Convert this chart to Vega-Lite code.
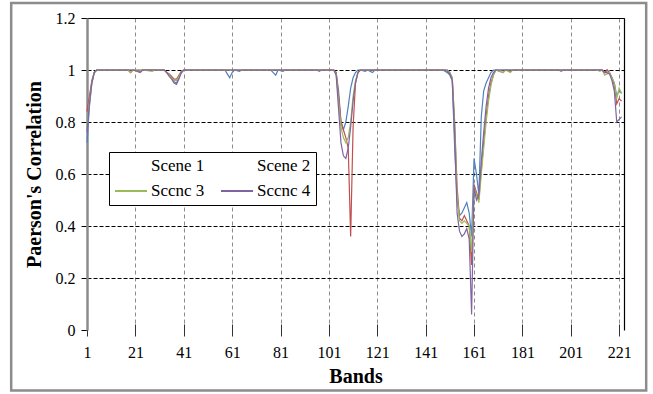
{
  "$schema": "https://vega.github.io/schema/vega-lite/v6.json",
  "width": 537,
  "height": 312,
  "autosize": {"type": "none"},
  "padding": {"left": 87, "top": 18, "right": 29, "bottom": 64},
  "background": "#ffffff",
  "config": {
    "view": {"stroke": null},
    "font": "Liberation Serif",
    "axis": {"labelFont": "Liberation Serif", "titleFont": "Liberation Serif"},
    "legend": {"labelFont": "Liberation Serif"}
  },
  "layer": [
    {
      "data": {"values": [
        {"b": 1, "Scene 1": 0.72, "Scene 2": 0.84, "Sccnc 3": 0.78, "Sccnc 4": 0.76},
        {"b": 2, "Scene 1": 0.86, "Scene 2": 0.90, "Sccnc 3": 0.88, "Sccnc 4": 0.87},
        {"b": 3, "Scene 1": 0.95, "Scene 2": 0.96, "Sccnc 3": 0.95, "Sccnc 4": 0.95},
        {"b": 4, "Scene 1": 0.99, "Scene 2": 0.99, "Sccnc 3": 0.99, "Sccnc 4": 0.99},
        {"b": 5, "Scene 1": 1, "Scene 2": 1, "Sccnc 3": 1, "Sccnc 4": 1},
        {"b": 18, "Scene 1": 1, "Scene 2": 1, "Sccnc 3": 1, "Sccnc 4": 1},
        {"b": 19, "Scene 1": 1, "Scene 2": 0.99, "Sccnc 3": 0.99, "Sccnc 4": 1},
        {"b": 20, "Scene 1": 1, "Scene 2": 1, "Sccnc 3": 1, "Sccnc 4": 1},
        {"b": 23, "Scene 1": 1, "Scene 2": 0.995, "Sccnc 3": 1, "Sccnc 4": 0.99},
        {"b": 24, "Scene 1": 1, "Scene 2": 1, "Sccnc 3": 1, "Sccnc 4": 1},
        {"b": 28, "Scene 1": 1, "Scene 2": 1, "Sccnc 3": 0.995, "Sccnc 4": 1},
        {"b": 29, "Scene 1": 1, "Scene 2": 1, "Sccnc 3": 1, "Sccnc 4": 1},
        {"b": 33, "Scene 1": 1, "Scene 2": 1, "Sccnc 3": 1, "Sccnc 4": 1},
        {"b": 34, "Scene 1": 0.99, "Scene 2": 0.99, "Sccnc 3": 0.99, "Sccnc 4": 0.99},
        {"b": 35, "Scene 1": 0.98, "Scene 2": 0.985, "Sccnc 3": 0.98, "Sccnc 4": 0.975},
        {"b": 36, "Scene 1": 0.97, "Scene 2": 0.975, "Sccnc 3": 0.97, "Sccnc 4": 0.965},
        {"b": 37, "Scene 1": 0.955, "Scene 2": 0.965, "Sccnc 3": 0.96, "Sccnc 4": 0.95},
        {"b": 38, "Scene 1": 0.95, "Scene 2": 0.965, "Sccnc 3": 0.96, "Sccnc 4": 0.945},
        {"b": 39, "Scene 1": 0.97, "Scene 2": 0.98, "Sccnc 3": 0.975, "Sccnc 4": 0.965},
        {"b": 40, "Scene 1": 0.99, "Scene 2": 0.995, "Sccnc 3": 0.99, "Sccnc 4": 0.99},
        {"b": 41, "Scene 1": 1, "Scene 2": 1, "Sccnc 3": 1, "Sccnc 4": 1},
        {"b": 58, "Scene 1": 1, "Scene 2": 1, "Sccnc 3": 1, "Sccnc 4": 1},
        {"b": 59, "Scene 1": 0.985, "Scene 2": 1, "Sccnc 3": 1, "Sccnc 4": 1},
        {"b": 60, "Scene 1": 0.97, "Scene 2": 1, "Sccnc 3": 1, "Sccnc 4": 1},
        {"b": 61, "Scene 1": 0.99, "Scene 2": 1, "Sccnc 3": 1, "Sccnc 4": 1},
        {"b": 62, "Scene 1": 1, "Scene 2": 1, "Sccnc 3": 1, "Sccnc 4": 1},
        {"b": 64, "Scene 1": 0.995, "Scene 2": 1, "Sccnc 3": 1, "Sccnc 4": 1},
        {"b": 65, "Scene 1": 1, "Scene 2": 1, "Sccnc 3": 1, "Sccnc 4": 1},
        {"b": 77, "Scene 1": 1, "Scene 2": 1, "Sccnc 3": 1, "Sccnc 4": 1},
        {"b": 78, "Scene 1": 0.99, "Scene 2": 1, "Sccnc 3": 1, "Sccnc 4": 1},
        {"b": 79, "Scene 1": 0.98, "Scene 2": 1, "Sccnc 3": 1, "Sccnc 4": 1},
        {"b": 80, "Scene 1": 1, "Scene 2": 1, "Sccnc 3": 1, "Sccnc 4": 1},
        {"b": 82, "Scene 1": 0.995, "Scene 2": 1, "Sccnc 3": 1, "Sccnc 4": 1},
        {"b": 83, "Scene 1": 1, "Scene 2": 1, "Sccnc 3": 1, "Sccnc 4": 1},
        {"b": 96, "Scene 1": 1, "Scene 2": 1, "Sccnc 3": 1, "Sccnc 4": 1},
        {"b": 97, "Scene 1": 0.995, "Scene 2": 1, "Sccnc 3": 1, "Sccnc 4": 1},
        {"b": 98, "Scene 1": 1, "Scene 2": 1, "Sccnc 3": 1, "Sccnc 4": 1},
        {"b": 103, "Scene 1": 1, "Scene 2": 1, "Sccnc 3": 1, "Sccnc 4": 1},
        {"b": 104, "Scene 1": 0.99, "Scene 2": 0.99, "Sccnc 3": 0.985, "Sccnc 4": 0.98},
        {"b": 105, "Scene 1": 0.92, "Scene 2": 0.90, "Sccnc 3": 0.88, "Sccnc 4": 0.85},
        {"b": 106, "Scene 1": 0.80, "Scene 2": 0.80, "Sccnc 3": 0.78, "Sccnc 4": 0.72},
        {"b": 107, "Scene 1": 0.77, "Scene 2": 0.77, "Sccnc 3": 0.74, "Sccnc 4": 0.67},
        {"b": 108, "Scene 1": 0.80, "Scene 2": 0.74, "Sccnc 3": 0.72, "Sccnc 4": 0.66},
        {"b": 109, "Scene 1": 0.86, "Scene 2": 0.70, "Sccnc 3": 0.74, "Sccnc 4": 0.70},
        {"b": 110, "Scene 1": 0.93, "Scene 2": 0.36, "Sccnc 3": 0.80, "Sccnc 4": 0.78},
        {"b": 111, "Scene 1": 0.97, "Scene 2": 0.78, "Sccnc 3": 0.90, "Sccnc 4": 0.88},
        {"b": 112, "Scene 1": 0.99, "Scene 2": 0.95, "Sccnc 3": 0.96, "Sccnc 4": 0.95},
        {"b": 113, "Scene 1": 1, "Scene 2": 0.99, "Sccnc 3": 0.99, "Sccnc 4": 0.99},
        {"b": 114, "Scene 1": 1, "Scene 2": 1, "Sccnc 3": 1, "Sccnc 4": 1},
        {"b": 116, "Scene 1": 0.995, "Scene 2": 1, "Sccnc 3": 1, "Sccnc 4": 1},
        {"b": 117, "Scene 1": 1, "Scene 2": 1, "Sccnc 3": 1, "Sccnc 4": 1},
        {"b": 119, "Scene 1": 0.99, "Scene 2": 1, "Sccnc 3": 1, "Sccnc 4": 1},
        {"b": 120, "Scene 1": 1, "Scene 2": 1, "Sccnc 3": 1, "Sccnc 4": 1},
        {"b": 148, "Scene 1": 1, "Scene 2": 1, "Sccnc 3": 1, "Sccnc 4": 1},
        {"b": 149, "Scene 1": 0.995, "Scene 2": 1, "Sccnc 3": 1, "Sccnc 4": 1},
        {"b": 150, "Scene 1": 0.99, "Scene 2": 1, "Sccnc 3": 1, "Sccnc 4": 0.995},
        {"b": 151, "Scene 1": 0.98, "Scene 2": 0.99, "Sccnc 3": 0.99, "Sccnc 4": 0.985},
        {"b": 152, "Scene 1": 0.96, "Scene 2": 0.97, "Sccnc 3": 0.97, "Sccnc 4": 0.96},
        {"b": 153, "Scene 1": 0.70, "Scene 2": 0.80, "Sccnc 3": 0.78, "Sccnc 4": 0.75},
        {"b": 154, "Scene 1": 0.50, "Scene 2": 0.55, "Sccnc 3": 0.52, "Sccnc 4": 0.45},
        {"b": 155, "Scene 1": 0.44, "Scene 2": 0.43, "Sccnc 3": 0.42, "Sccnc 4": 0.38},
        {"b": 156, "Scene 1": 0.45, "Scene 2": 0.42, "Sccnc 3": 0.41, "Sccnc 4": 0.36},
        {"b": 157, "Scene 1": 0.47, "Scene 2": 0.44, "Sccnc 3": 0.42, "Sccnc 4": 0.37},
        {"b": 158, "Scene 1": 0.49, "Scene 2": 0.42, "Sccnc 3": 0.41, "Sccnc 4": 0.39},
        {"b": 159, "Scene 1": 0.45, "Scene 2": 0.40, "Sccnc 3": 0.40, "Sccnc 4": 0.35},
        {"b": 160, "Scene 1": 0.36, "Scene 2": 0.25, "Sccnc 3": 0.30, "Sccnc 4": 0.06},
        {"b": 161, "Scene 1": 0.66, "Scene 2": 0.56, "Sccnc 3": 0.55, "Sccnc 4": 0.55},
        {"b": 162, "Scene 1": 0.60, "Scene 2": 0.53, "Sccnc 3": 0.52, "Sccnc 4": 0.50},
        {"b": 163, "Scene 1": 0.52, "Scene 2": 0.50, "Sccnc 3": 0.49, "Sccnc 4": 0.52},
        {"b": 164, "Scene 1": 0.82, "Scene 2": 0.62, "Sccnc 3": 0.60, "Sccnc 4": 0.65},
        {"b": 165, "Scene 1": 0.92, "Scene 2": 0.72, "Sccnc 3": 0.70, "Sccnc 4": 0.76},
        {"b": 166, "Scene 1": 0.95, "Scene 2": 0.82, "Sccnc 3": 0.80, "Sccnc 4": 0.86},
        {"b": 167, "Scene 1": 0.97, "Scene 2": 0.90, "Sccnc 3": 0.88, "Sccnc 4": 0.93},
        {"b": 168, "Scene 1": 0.99, "Scene 2": 0.95, "Sccnc 3": 0.94, "Sccnc 4": 0.97},
        {"b": 169, "Scene 1": 1, "Scene 2": 0.98, "Sccnc 3": 0.98, "Sccnc 4": 0.99},
        {"b": 170, "Scene 1": 1, "Scene 2": 1, "Sccnc 3": 1, "Sccnc 4": 1},
        {"b": 173, "Scene 1": 1, "Scene 2": 0.99, "Sccnc 3": 0.99, "Sccnc 4": 1},
        {"b": 174, "Scene 1": 1, "Scene 2": 1, "Sccnc 3": 1, "Sccnc 4": 1},
        {"b": 176, "Scene 1": 1, "Scene 2": 0.995, "Sccnc 3": 0.99, "Sccnc 4": 1},
        {"b": 177, "Scene 1": 1, "Scene 2": 1, "Sccnc 3": 1, "Sccnc 4": 1},
        {"b": 196, "Scene 1": 1, "Scene 2": 1, "Sccnc 3": 1, "Sccnc 4": 1},
        {"b": 197, "Scene 1": 0.995, "Scene 2": 1, "Sccnc 3": 1, "Sccnc 4": 1},
        {"b": 198, "Scene 1": 1, "Scene 2": 1, "Sccnc 3": 1, "Sccnc 4": 1},
        {"b": 212, "Scene 1": 1, "Scene 2": 1, "Sccnc 3": 1, "Sccnc 4": 1},
        {"b": 213, "Scene 1": 1, "Scene 2": 1, "Sccnc 3": 0.995, "Sccnc 4": 1},
        {"b": 214, "Scene 1": 1, "Scene 2": 1, "Sccnc 3": 1, "Sccnc 4": 1},
        {"b": 215, "Scene 1": 0.99, "Scene 2": 0.99, "Sccnc 3": 0.98, "Sccnc 4": 0.99},
        {"b": 216, "Scene 1": 1, "Scene 2": 1, "Sccnc 3": 0.985, "Sccnc 4": 0.99},
        {"b": 217, "Scene 1": 0.99, "Scene 2": 0.99, "Sccnc 3": 0.99, "Sccnc 4": 0.985},
        {"b": 218, "Scene 1": 0.97, "Scene 2": 0.97, "Sccnc 3": 0.97, "Sccnc 4": 0.96},
        {"b": 219, "Scene 1": 0.95, "Scene 2": 0.94, "Sccnc 3": 0.95, "Sccnc 4": 0.92},
        {"b": 220, "Scene 1": 0.90, "Scene 2": 0.87, "Sccnc 3": 0.89, "Sccnc 4": 0.80},
        {"b": 221, "Scene 1": 0.92, "Scene 2": 0.89, "Sccnc 3": 0.93, "Sccnc 4": 0.81},
        {"b": 222, "Scene 1": 0.91, "Scene 2": 0.88, "Sccnc 3": 0.91, "Sccnc 4": 0.82}
      ]},
      "transform": [
        {"fold": ["Scene 1", "Scene 2", "Sccnc 3", "Sccnc 4"], "as": ["s", "v"]}
      ],
      "mark": {"type": "line", "strokeWidth": 1.2, "clip": false},
      "encoding": {
        "x": {
          "field": "b", "type": "quantitative",
          "scale": {"domain": [1, 223], "nice": false, "zero": false},
          "axis": {
            "orient": "bottom",
            "values": [1, 21, 41, 61, 81, 101, 121, 141, 161, 181, 201, 221],
            "format": "d",
            "domain": false,
            "offset": -6,
            "ticks": true, "tickSize": 12, "tickColor": "#333333", "tickWidth": 1,
            "grid": true, "gridColor": "#8c8c8c", "gridDash": [4, 3], "gridWidth": 1,
            "labelFont": "Liberation Serif", "labelFontSize": 16, "labelColor": "#000000", "labelPadding": 8,
            "labelFlush": false, "labelOverlap": false,
            "title": "Bands", "titleFont": "Liberation Serif", "titleFontSize": 20, "titleFontWeight": "bold",
            "titleColor": "#000000", "titlePadding": 6
          }
        },
        "y": {
          "field": "v", "type": "quantitative",
          "scale": {"domain": [0, 1.2], "nice": false, "zero": true},
          "axis": {
            "orient": "left",
            "values": [0, 0.2, 0.4, 0.6, 0.8, 1, 1.2],
            "format": "~g",
            "domain": true, "domainColor": "#8c8c8c", "domainWidth": 2.5,
            "ticks": true, "tickSize": 6, "tickColor": "#000000", "tickWidth": 1,
            "grid": true, "gridColor": "#000000", "gridWidth": 1,
            "gridDash": {"condition": {"test": "datum.value >= 1.19", "value": []}, "value": [4, 2]},
            "gridOpacity": {"condition": {"test": "datum.value < 0.01", "value": 0}, "value": 1},
            "labelFont": "Liberation Serif", "labelFontSize": 16, "labelColor": "#000000", "labelPadding": 6,
            "labelFlush": false,
            "title": "Paerson's Correlation", "titleFont": "Liberation Serif", "titleFontSize": 20, "titleFontWeight": "bold",
            "titleColor": "#000000", "titlePadding": 11
          }
        },
        "color": {
          "field": "s", "type": "nominal",
          "scale": {"domain": ["Scene 1", "Scene 2", "Sccnc 3", "Sccnc 4"], "range": ["#4F81BD", "#C0504D", "#9BBB59", "#8064A2"]},
          "legend": {
            "orient": "none", "legendX": 22, "legendY": 134,
            "direction": "horizontal",
            "columns": 2, "title": null,
            "symbolType": "stroke", "symbolSize": 1024, "symbolStrokeWidth": 2,
            "clipHeight": 18,
            "labelFont": "Liberation Serif", "labelFontSize": 17, "labelColor": "#000000", "labelOffset": 3, "labelLimit": 200,
            "strokeColor": "#000000", "fillColor": "#ffffff", "padding": 5,
            "rowPadding": 7, "columnPadding": 15,
            "encode": {"symbols": {"update": {"strokeOpacity": [{"test": "datum.value === 'Scene 1' || datum.value === 'Scene 2'", "value": 0}, {"value": 1}]}}}
          }
        }
      }
    },
    {
      "data": {"values": [{"k": 1}]},
      "mark": {"type": "rect", "fill": null, "fillOpacity": 0, "stroke": "#8c8c8c", "strokeWidth": 2.5, "clip": false},
      "encoding": {
        "x": {"datum": -30.34, "type": "quantitative",
          "axis": {"orient": "top", "domain": true, "domainColor": "#000000", "domainWidth": 1.2, "ticks": false, "labels": false, "grid": false, "title": null}},
        "x2": {"datum": 232.17},
        "y": {"datum": 1.2577, "type": "quantitative",
          "axis": {"orient": "right", "domain": true, "domainColor": "#000000", "domainWidth": 1.2, "ticks": false, "labels": false, "grid": false, "title": null}},
        "y2": {"datum": -0.2327}
      }
    }
  ],
  "resolve": {"axis": {"x": "independent", "y": "independent"}}
}
